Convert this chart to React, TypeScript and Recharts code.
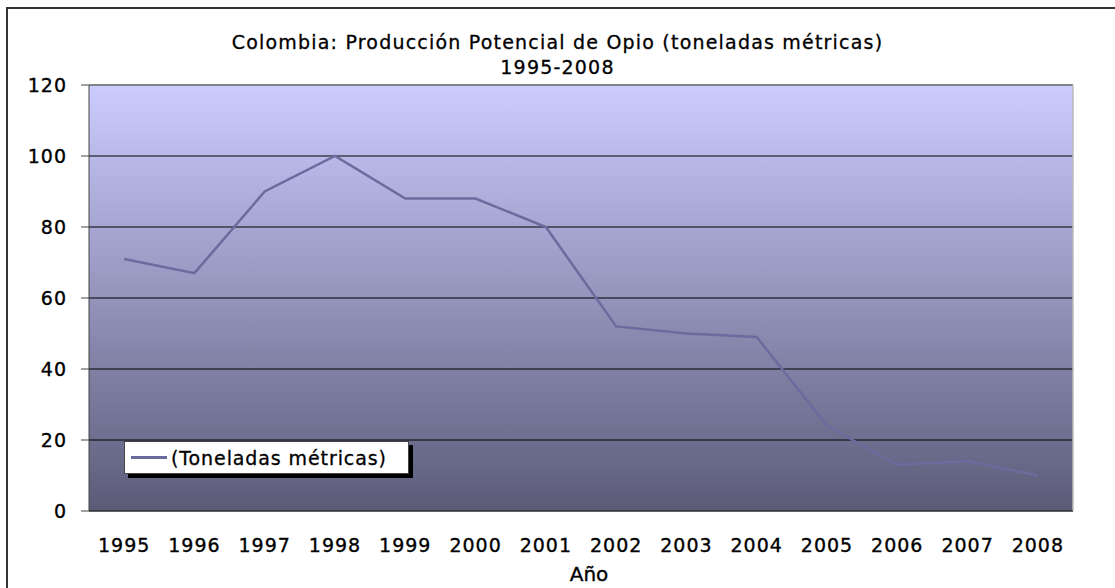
import { LineChart, Line, XAxis, YAxis, CartesianGrid, ReferenceLine } from 'recharts';

const years = [1995, 1996, 1997, 1998, 1999, 2000, 2001, 2002, 2003, 2004, 2005, 2006, 2007, 2008];
const tons = [71, 67, 90, 100, 88, 88, 80, 52, 50, 49, 24, 13, 14, 10];
const yTicks = [0, 20, 40, 60, 80, 100, 120];
const boundaries = [1994.5, 1995.5, 1996.5, 1997.5, 1998.5, 1999.5, 2000.5, 2001.5, 2002.5, 2003.5, 2004.5, 2005.5, 2006.5, 2007.5, 2008.5];
const seriesName = '(Toneladas métricas)';
const titleLines = ['Colombia: Producción Potencial de Opio (toneladas métricas)', '1995-2008'];
const xTitle = 'Año';

const data = years.map((year, i) => ({ year, tons: tons[i] }));

const FONT = '"DejaVu Sans", Verdana, sans-serif';
const LINE = '#6b6b9e';

function YearTick(props: any) {
  const { x, y, payload } = props;
  return (
    <text x={x} y={y + 25} textAnchor="middle" fontFamily={FONT} fontSize={19} letterSpacing={1} fill="#000" stroke="#000" strokeWidth={0.35}>
      {payload.value}
    </text>
  );
}

export default function App() {
  return (
    <div style={{ position: 'absolute', left: 0, top: 0, width: 1115, height: 588, background: '#fff', overflow: 'hidden', fontFamily: FONT }}>
      <div style={{ position: 'absolute', left: 6, top: 7, width: 1120, height: 600, border: '2px solid #333' }} />
      <div
        style={{
          position: 'absolute',
          left: 0,
          top: 30,
          width: 1115,
          textAlign: 'center',
          fontSize: 19,
          letterSpacing: 1.2,
          lineHeight: '25px',
          color: '#000',
          WebkitTextStroke: '0.3px #000',
        }}
      >
        {titleLines.map((t) => (
          <div key={t}>{t}</div>
        ))}
      </div>
      <LineChart width={1115} height={588} data={data} margin={{ top: 85, right: 42, bottom: 19, left: 29 }}>
        <defs>
          <linearGradient id="plotBg" x1="0" y1="0" x2="0" y2="1">
            <stop offset="0%" stopColor="#ccccff" />
            <stop offset="100%" stopColor="#5b5b78" />
          </linearGradient>
        </defs>
        <CartesianGrid vertical={false} stroke="#000" fill="url(#plotBg)" />
        <ReferenceLine y={120} stroke="#888" strokeWidth={1.5} />
        <ReferenceLine x={2008.5} stroke="#bbb" strokeWidth={1.5} />
        <XAxis
          xAxisId={0}
          dataKey="year"
          type="number"
          domain={[1994.5, 2008.5]}
          ticks={boundaries}
          tick={false}
          tickSize={8}
          height={8}
          stroke="#444"
          allowDataOverflow
        />
        <XAxis
          xAxisId="lbl"
          dataKey="year"
          type="number"
          domain={[1994.5, 2008.5]}
          ticks={years}
          axisLine={false}
          tickLine={false}
          tick={<YearTick />}
          height={50}
          label={{ value: xTitle, position: 'insideBottom', offset: -12, dx: 8, fontSize: 20, fill: '#000', stroke: '#000', strokeWidth: 0.35, fontFamily: FONT }}
        />
        <YAxis
          domain={[0, 120]}
          ticks={yTicks}
          width={60}
          tickSize={8}
          tickMargin={14}
          stroke="#444"
          tick={{ fill: '#000', stroke: '#000', strokeWidth: 0.35, fontSize: 19, fontFamily: FONT, letterSpacing: 1 }}
        />
        <Line
          dataKey="tons"
          xAxisId={0}
          stroke={LINE}
          strokeWidth={2.5}
          dot={false}
          isAnimationActive={false}
          name={seriesName}
        />
      </LineChart>
      <div style={{ position: 'absolute', left: 128, top: 445, width: 285, height: 33, background: '#000' }} />
      <div
        style={{
          position: 'absolute',
          left: 124,
          top: 441,
          width: 283,
          height: 31,
          background: '#fff',
          border: '1px solid #444',
          display: 'flex',
          alignItems: 'center',
          fontSize: 19,
          letterSpacing: 0.9,
          color: '#000',
          WebkitTextStroke: '0.3px #000',
        }}
      >
        <div style={{ width: 36, height: 3, background: LINE, marginLeft: 6, marginRight: 4 }} />
        <span>{seriesName}</span>
      </div>
    </div>
  );
}
